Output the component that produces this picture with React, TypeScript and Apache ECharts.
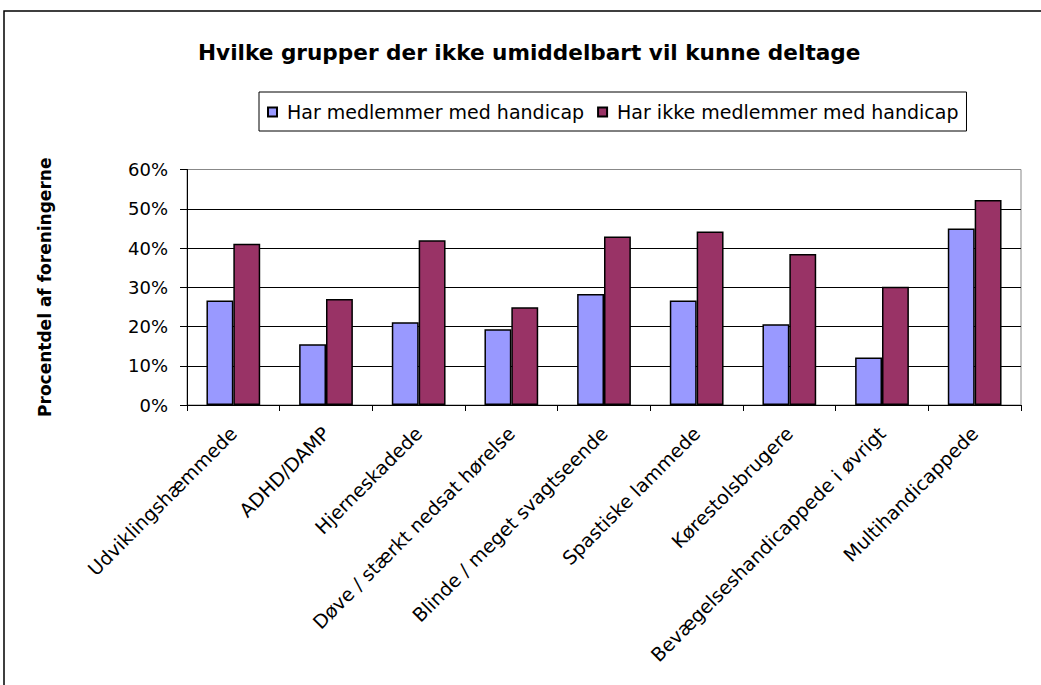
import React, { useEffect, useRef } from "react";
import * as echarts from "echarts";

const categories = [
  "Udviklingshæmmede",
  "ADHD/DAMP",
  "Hjerneskadede",
  "Døve / stærkt nedsat hørelse",
  "Blinde / meget svagtseende",
  "Spastiske lammede",
  "Kørestolsbrugere",
  "Bevægelseshandicappede i øvrigt",
  "Multihandicappede",
];
const withHandicap = [26.6, 15.5, 21.1, 19.3, 28.3, 26.6, 20.6, 12.1, 45.0];
const withoutHandicap = [41.1, 27.0, 42.0, 24.9, 42.9, 44.2, 38.5, 30.1, 52.2];
const seriesNames = ["Har medlemmer med handicap", "Har ikke medlemmer med handicap"];
const yTicks = [0, 10, 20, 30, 40, 50, 60];

const FONT = "DejaVu Sans";

export default function App() {
  const ref = useRef<HTMLDivElement>(null);
  useEffect(() => {
    if (!ref.current) return;
    const chart = echarts.init(ref.current, null, { renderer: "svg" });
    chart.setOption({
      animation: false,
      backgroundColor: "#ffffff",
      textStyle: { fontFamily: FONT, color: "#000" },
      title: {
        text: "Hvilke grupper der ikke umiddelbart vil kunne deltage",
        left: 193,
        top: 36,
        textStyle: { fontFamily: FONT, fontSize: 21.6, fontWeight: "bold", color: "#000" },
      },
      legend: {
        left: 259,
        top: 92,
        padding: [10, 8, 9, 8],
        itemGap: 13,
        itemWidth: 9,
        itemHeight: 9,
        borderColor: "#000",
        borderWidth: 1,
        icon: "rect",
        textStyle: { fontFamily: FONT, fontSize: 19, color: "#000", padding: [0, 0, 0, 5], lineHeight: 20 },
        data: seriesNames,
      },
      graphic: [
        {
          type: "rect",
          shape: { x: 4, y: 11, width: 1100, height: 800 },
          style: { fill: "none", stroke: "#000", lineWidth: 1.5 },
          silent: true,
        },
      ],
      grid: {
        left: 187,
        top: 169.5,
        right: 20,
        bottom: 280,
        show: true,
        borderColor: "#888",
        borderWidth: 1,
        backgroundColor: "transparent",
      },
      xAxis: {
        type: "category",
        data: categories,
        axisLine: { lineStyle: { color: "#000", width: 1 } },
        axisTick: { show: true, length: 6, lineStyle: { color: "#000" } },
        axisLabel: {
          rotate: 45,
          margin: 25,
          interval: 0,
          fontFamily: FONT,
          fontSize: 19,
          color: "#000",
        },
      },
      yAxis: {
        type: "value",
        min: 0,
        max: 60,
        interval: 10,
        name: "Procentdel af foreningerne",
        nameLocation: "middle",
        nameRotate: 90,
        nameGap: 134,
        nameTextStyle: { fontFamily: FONT, fontSize: 17, fontWeight: "bold", color: "#000" },
        axisLine: { show: true, lineStyle: { color: "#000", width: 1 } },
        axisTick: { show: true, length: 7, lineStyle: { color: "#000" } },
        axisLabel: {
          margin: 19,
          fontFamily: FONT,
          fontSize: 18,
          color: "#000",
          formatter: (v: number) => (yTicks.includes(v) ? v + "%" : ""),
        },
        splitLine: {
          show: true,
          lineStyle: { color: ["#000", "#000", "#000", "#000", "#000", "#000", "#888"], width: 1 },
        },
      },
      series: [
        {
          name: seriesNames[0],
          type: "bar",
          data: withHandicap,
          barGap: "0%",
          barCategoryGap: "42%",
          itemStyle: { color: "#9999FF", borderColor: "#000", borderWidth: 1.5 },
        },
        {
          name: seriesNames[1],
          type: "bar",
          data: withoutHandicap,
          barGap: "0%",
          barCategoryGap: "42%",
          itemStyle: { color: "#993366", borderColor: "#000", borderWidth: 1.5 },
        },
      ],
    });
    return () => chart.dispose();
  }, []);
  return (
    <div
      ref={ref}
      style={{ position: "fixed", left: 0, top: 0, width: 1041, height: 685, background: "#fff" }}
    />
  );
}
